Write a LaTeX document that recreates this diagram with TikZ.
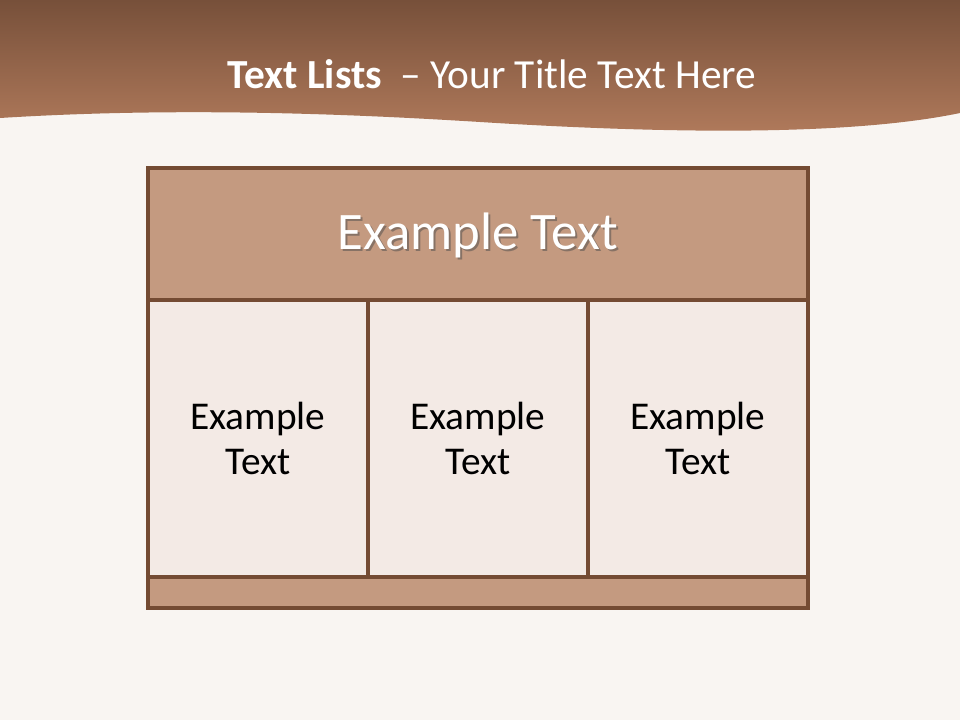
\documentclass[tikz,border=0pt]{standalone}
\usepackage{fontspec}
\setmainfont{Carlito}
\usetikzlibrary{positioning}

\definecolor{bandtop}{HTML}{77503A}
\definecolor{bandbot}{HTML}{B27B5C}
\definecolor{frame}{HTML}{744B33}
\definecolor{headfill}{HTML}{C49A80}
\definecolor{cellfill}{HTML}{F3EAE5}
\definecolor{bgfill}{HTML}{F9F5F2}

\tikzset{
    rowbox/.style={draw=frame, line width=2.4pt, fill=headfill, minimum width=16.5cm},
    cellbox/.style={draw=frame, line width=2.4pt, fill=cellfill, minimum width=5.5cm, minimum height=6.925cm,
        align=center, font=\fontsize{28}{32}\selectfont}
}

\begin{document}
\begin{tikzpicture}
    \fill[bgfill] (0,0) rectangle (24,18);
    \useasboundingbox (0,0) rectangle (24,18);
    % title band
    \shade[top color=bandtop, bottom color=bandbot] (0,18) -- (24,18) -- (24,15.175)
        .. controls (21,14.55) and (16,14.7) .. (12,14.95)
        .. controls (8,15.2) and (4,15.3) .. (0,15.05) -- cycle;
    \node[text=white, font=\fontsize{29.4}{34}\selectfont] (title) at (12.3,16.15) {\textbf{Text Lists}\ \ – Your Title Text Here};
    % table
    \node[rowbox, minimum height=3.3cm] (head) at (11.95,12.15) {};
    \node[text=black!70, opacity=0.5, font=\fontsize{37.5}{42}\selectfont] (headshadow) at ([xshift=0.05cm, yshift=-0.08cm]head.center) {Example Text};
    \node[text=white, font=\fontsize{37.5}{42}\selectfont] (headtext) at ([yshift=-0.03cm]head.center) {Example Text};
    \node[cellbox] (left) at (6.45,7.0375) {Example\\Text};
    \node[cellbox] (mid) at (11.95,7.0375) {Example\\Text};
    \node[cellbox] (right) at (17.45,7.0375) {Example\\Text};
    \node[rowbox, minimum height=0.775cm] (foot) at (11.95,3.1875) {};
\end{tikzpicture}
\end{document}
